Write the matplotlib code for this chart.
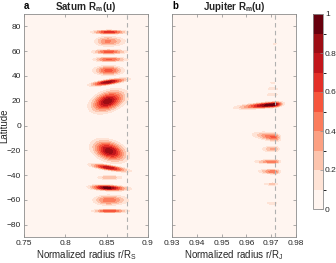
import numpy as np
import matplotlib
matplotlib.use("Agg")
import matplotlib.pyplot as plt
from matplotlib.colors import ListedColormap, BoundaryNorm

plt.rcParams['font.family'] = ['Liberation Sans', 'DejaVu Sans']
plt.rcParams['mathtext.fontset'] = 'custom'
plt.rcParams['mathtext.rm'] = 'Liberation Sans'
plt.rcParams['mathtext.bf'] = 'Liberation Sans:bold'

# ---- data (one entry per feature) ----
# Saturn: centre latitude, radius of peak, peak value, half thickness in latitude,
# inner and outer radius of the faintest contour, tilt (deg of latitude per unit radius)
sat_lat   = [75.4, 67.9, 59.5, 53.3, 44.4, 34.9, 19.5, -20.5, -34.0, -42.0, -50.3, -60.3, -69.0]
sat_r     = [0.853, 0.851, 0.852, 0.852, 0.852, 0.851, 0.851, 0.853, 0.852, 0.853, 0.850, 0.852, 0.853]
sat_amp   = [0.68, 0.42, 0.56, 0.52, 0.55, 0.86, 0.86, 0.86, 0.80, 0.28, 0.95, 0.48, 0.60]
sat_hlat  = [1.8, 4.3, 2.0, 2.0, 4.3, 2.5, 10.0, 10.0, 2.5, 1.6, 2.7, 4.5, 1.6]
sat_rin   = [0.829, 0.834, 0.830, 0.832, 0.832, 0.826, 0.826, 0.828, 0.826, 0.838, 0.825, 0.832, 0.830]
sat_rout  = [0.878, 0.874, 0.877, 0.878, 0.873, 0.880, 0.878, 0.879, 0.881, 0.870, 0.881, 0.878, 0.879]
sat_tilt  = [0, 0, 0, 0, 0, 100, 170, -150, -100, 0, -30, 0, 0]

# Jupiter
jup_lat   = [16.8, 66.0, 34.6, 29.7, 25.0, -9.4, -19.0, -29.2, -37.3, -47.3, -62.7]
jup_r     = [0.9707, 0.9715, 0.9705, 0.9705, 0.9705, 0.9712, 0.9708, 0.9708, 0.971, 0.9705, 0.9705]
jup_amp   = [1.00, 0.13, 0.13, 0.20, 0.20, 0.52, 0.33, 0.48, 0.48, 0.24, 0.20]
jup_hlat  = [2.8, 0.6, 0.7, 0.9, 0.9, 3.8, 2.4, 1.7, 2.1, 1.0, 0.9]
jup_rin   = [0.954, 0.9708, 0.9695, 0.9687, 0.968, 0.962, 0.966, 0.9628, 0.9645, 0.967, 0.968]
jup_rout  = [0.9756, 0.9722, 0.9718, 0.9728, 0.9728, 0.9741, 0.9735, 0.9741, 0.974, 0.973, 0.9725]
jup_tilt  = [155, 0, 0, 0, 0, -250, 0, 0, -60, 0, 0]

sat_boundary = 0.875
jup_boundary = 0.9715
levels = np.round(np.arange(0, 1.01, 0.1), 2)
cbar_ticks = [0, 0.2, 0.4, 0.6, 0.8, 1]

P = 2.0          # profile exponent
EDGE_VAL = 0.08  # value at the measured outer edge


def field(rgrid, latgrid, lats, rs, amps, hl, rin, rout, tilts):
    R, L = np.meshgrid(rgrid, latgrid)
    F = np.zeros_like(R)
    for la, r0, a, h, ri, ro, t in zip(lats, rs, amps, hl, rin, rout, tilts):
        k = (2 * np.log(a / EDGE_VAL)) ** (1 / P)
        wl = h / k
        wr = np.where(R < r0, (r0 - ri) / k, (ro - r0) / k)
        d = np.sqrt(((L - (la + t * (R - r0))) / wl) ** 2 + ((R - r0) / wr) ** 2)
        g = a * np.exp(-0.5 * d ** P)
        F = np.maximum(F, g)
    return R, L, F


cols = plt.get_cmap('Reds')(np.linspace(0, 1, 10))
cmap = ListedColormap(cols)
norm = BoundaryNorm(levels, cmap.N)

fig = plt.figure(figsize=(3.36, 2.63), dpi=100)
W, H = 336, 263
axa = fig.add_axes([24 / W, (H - 237) / H, 124 / W, 223 / H])
axb = fig.add_axes([172 / W, (H - 237) / H, 124 / W, 223 / H])
cax = fig.add_axes([313 / W, (H - 209) / H, 10 / W, 195 / H])

lat = np.linspace(-90, 90, 901)
R, L, F = field(np.linspace(0.75, 0.9, 600), lat, sat_lat, sat_r, sat_amp, sat_hlat, sat_rin, sat_rout, sat_tilt)
cs = axa.contourf(R, L, np.clip(F, 0, 0.9999), levels=levels, cmap=cmap, norm=norm)
R2, L2, F2 = field(np.linspace(0.93, 0.98, 600), lat, jup_lat, jup_r, jup_amp, jup_hlat, jup_rin, jup_rout, jup_tilt)
axb.contourf(R2, L2, np.clip(F2, 0, 0.9999), levels=levels, cmap=cmap, norm=norm)

edge = '#8c8c8c'
tc = '#262626'
fs = 6
for ax in (axa, axb):
    ax.set_ylim(-90, 90)
    ax.set_yticks(np.arange(-80, 81, 20))
    ax.tick_params(direction='in', top=True, right=True, length=2.5, width=0.5,
                   labelsize=fs, colors=edge, labelcolor=tc, pad=2)
    for s in ax.spines.values():
        s.set_color(edge)
        s.set_linewidth(0.6)

axa.set_xlim(0.75, 0.9)
axa.set_xticks([0.75, 0.8, 0.85, 0.9])
axa.set_xticklabels(['0.75', '0.8', '0.85', '0.9'])
axa.axvline(sat_boundary, color='#b0b0b0', ls=(0, (4, 3)), lw=0.8)
axa.set_xlabel('Normalized radius r/R$_\\mathregular{S}$', fontsize=7, color=tc, labelpad=1)
axa.set_ylabel('Latitude', fontsize=7, color=tc)
axa.yaxis.set_label_coords(-0.115, 0.5)
axa.set_title('Saturn R$_\\mathbf{m}$(u)', fontsize=7, fontweight='bold', color=tc, pad=3)
axa.text(0.0, 1.015, 'a', transform=axa.transAxes, fontsize=7, fontweight='bold', ha='left', va='bottom')

axb.set_xlim(0.93, 0.98)
axb.set_xticks([0.93, 0.94, 0.95, 0.96, 0.97, 0.98])
axb.set_xticklabels(['0.93', '0.94', '0.95', '0.96', '0.97', '0.98'])
axb.set_yticklabels([])
axb.axvline(jup_boundary, color='#b0b0b0', ls=(0, (4, 3)), lw=0.8)
axb.set_xlabel('Normalized radius r/R$_\\mathregular{J}$', fontsize=7, color=tc, labelpad=1)
axb.set_title('Jupiter R$_\\mathbf{m}$(u)', fontsize=7, fontweight='bold', color=tc, pad=3)
axb.text(0.0, 1.015, 'b', transform=axb.transAxes, fontsize=7, fontweight='bold', ha='left', va='bottom')

cb = fig.colorbar(cs, cax=cax, ticks=cbar_ticks)
cb.ax.set_yticklabels(['0', '0.2', '0.4', '0.6', '0.8', '1'])
cb.ax.tick_params(labelsize=fs, length=2, width=0.5, colors=edge, labelcolor=tc, pad=1.5, direction='in')
cb.outline.set_edgecolor(edge)
cb.outline.set_linewidth(0.6)

fig.savefig('out.png', dpi=100)
